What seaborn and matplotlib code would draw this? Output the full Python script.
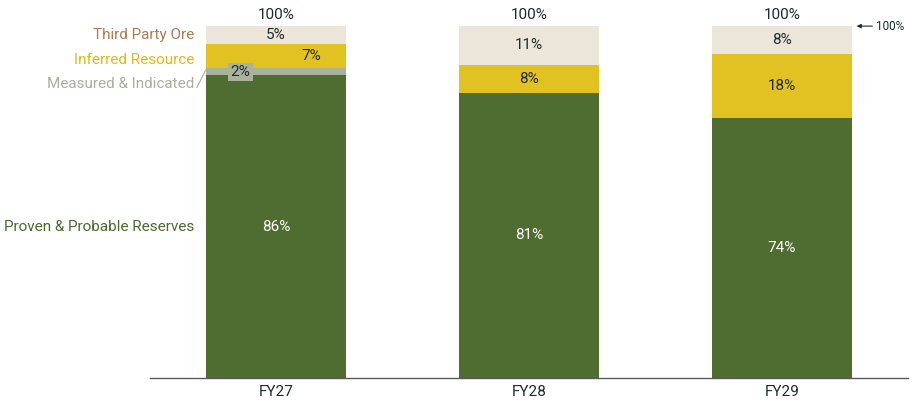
import matplotlib
matplotlib.use("Agg")
import matplotlib.pyplot as plt
import seaborn as sns
import numpy as np
import pandas as pd

years = ['FY27', 'FY28', 'FY29']
proven = [86, 81, 74]
measured = [2, 0, 0]
inferred = [7, 8, 18]
third_party = [5, 11, 8]

layer_names = ['Proven & Probable Reserves', 'Measured & Indicated', 'Inferred Resource', 'Third Party Ore']
layer_colors = ['#4F6D31', '#A9B39B', '#E2C222', '#ECE5D9']
name_colors = ['#4A6B2E', '#A9B19C', '#E0B81C', '#B07A52']

sns.set_theme(style="white")
plt.rcParams['font.family'] = ['Roboto', 'DejaVu Sans']

layers = np.array([proven, measured, inferred, third_party], dtype=float)
cum = np.cumsum(layers, axis=0)

fig = plt.figure(figsize=(9.13, 4.12), dpi=100)
ax = fig.add_axes([150 / 913, 1 - 378 / 412, 758 / 913, 373 / 412])

# stacked bars: draw cumulative totals from the top layer downwards
for i in range(len(layers) - 1, -1, -1):
    df = pd.DataFrame({'year': years, 'value': cum[i]})
    sns.barplot(data=df, x='year', y='value', color=layer_colors[i],
                width=0.553, saturation=1, ax=ax, linewidth=0)

ax.set_xlim(-0.498, 2.498)
ax.set_ylim(0, 106)
ax.set_xlabel('')
ax.set_ylabel('')
ax.set_yticks([])
ax.tick_params(axis='x', length=0, pad=5, labelsize=11, labelcolor='#1F2A2A')
for s in ['top', 'right', 'left']:
    ax.spines[s].set_visible(False)
ax.spines['bottom'].set_color('#595959')
ax.spines['bottom'].set_linewidth(1)

txt = '#1F2A2A'
fs = 11
# segment labels
for j in range(len(years)):
    for i in range(len(layers)):
        v = layers[i, j]
        if v <= 0:
            continue
        mid = cum[i, j] - v / 2
        x = j
        color = 'white' if i == 0 else txt
        kw = {}
        if j == 0 and i == 2:
            x = j + 0.14
        if j == 0 and i == 1:
            x = j - 0.14
            kw['bbox'] = dict(boxstyle='square,pad=0.15', fc='#A9B39B', ec='none')
        ax.text(x, mid, f'{int(v)}%', ha='center', va='center', color=color,
                fontsize=fs, **kw)
    ax.text(j, cum[-1, j] + 3.2, f'{int(cum[-1, j])}%', ha='center', va='center',
            color=txt, fontsize=fs)

# series names on the left
name_y = [43, 83.5, 90.3, 97.5]
for i in range(len(layer_names)):
    ax.text(-0.324, name_y[i], layer_names[i], ha='right', va='center',
            color=name_colors[i], fontsize=fs, clip_on=False)
ax.plot([-0.313, -0.278], [82.5, 87.5], color='#A9B19C', lw=0.8, clip_on=False)

ax.annotate('100%', xy=(2.295, 100), xytext=(2.37, 100), ha='left', va='center',
            fontsize=8.5, color=txt, annotation_clip=False,
            arrowprops=dict(arrowstyle='-|>', color=txt, lw=0.8,
                            mutation_scale=6, shrinkA=0, shrinkB=0))

fig.savefig('out.png', dpi=100)
